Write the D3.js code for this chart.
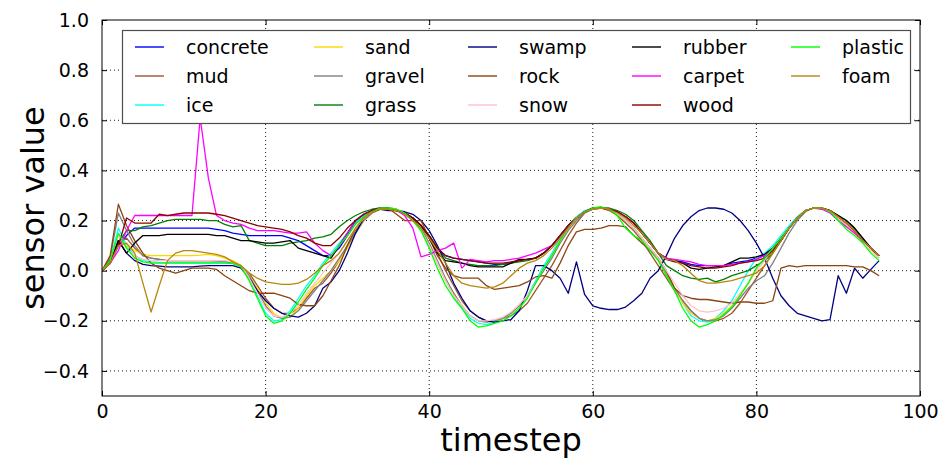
<!DOCTYPE html>
<html>
<head>
<meta charset="utf-8">
<script src="https://cdnjs.cloudflare.com/ajax/libs/d3/7.8.5/d3.min.js"></script>
<style>
body { margin: 0; background: #fff; }
svg { font-family: "DejaVu Sans", sans-serif; }
</style>
</head>
<body>
<svg id="chart" width="946" height="461"></svg>
<script>

// sensor readings, one value per timestep (0..95), rows of ten
var concrete = [
  0, .03, .1, .14, .17, .17, .17, .17, .17, .17,
  .17, .17, .17, .17, .165, .16, .15, .145, .14, .14,
  .14, .14, .14, .13, .12, .1, .08, .06, .06, .09,
  .14, .19, .22, .24, .25, .25, .24, .23, .21, .18,
  .14, .09, .06, .05, .045, .04, .035, .03, .025, .025,
  .03, .04, .045, .05, .07, .1, .14, .18, .21, .235,
  .25, .25, .245, .235, .215, .19, .15, .11, .07, .045,
  .04, .035, .025, .02, .02, .02, .02, .03, .035, .04,
  .05, .06, .08, .12, .17, .21, .24, .25, .25, .235,
  .21, .19, .16, .12, .09, .06];
var mud = [
  0, .03, .11, .13, .09, .06, .05, .045, .04, .04,
  .04, .04, .04, .04, .04, .035, .03, .02, -.01, -.06,
  -.11, -.15, -.17, -.17, -.15, -.11, -.07, -.05, -.01, .04,
  .1, .16, .2, .23, .245, .25, .245, .23, .21, .18,
  .13, .07, 0, -.06, -.12, -.16, -.185, -.2, -.2, -.19,
  -.18, -.16, -.13, -.08, -.03, .02, .08, .14, .19, .23,
  .245, .25, .24, .22, .19, .16, .12, .07, .02, -.03,
  -.08, -.12, -.16, -.19, -.2, -.2, -.19, -.17, -.13, -.08,
  -.03, .02, .07, .12, .17, .21, .24, .25, .25, .24,
  .21, .19, .16, .12, .09, .06];
var ice = [
  0, .04, .17, .1, .06, .04, .035, .033, .032, .032,
  .032, .032, .032, .032, .032, .032, .03, .02, -.03, -.1,
  -.17, -.2, -.195, -.16, -.11, -.06, -.02, .03, .07, .11,
  .15, .19, .22, .24, .25, .25, .245, .225, .2, .16,
  .1, .03, -.04, -.1, -.15, -.19, -.21, -.215, -.205, -.19,
  -.17, -.14, -.1, -.04, .02, .07, .13, .18, .215, .24,
  .25, .25, .245, .23, .2, .17, .13, .09, .05, -.01,
  -.07, -.13, -.18, -.2, -.205, -.19, -.16, -.12, -.06, 0,
  .05, .07, .1, .14, .18, .215, .24, .25, .25, .235,
  .21, .18, .15, .12, .08, .05];
var sand = [
  0, .03, .12, .1, .08, .065, .06, .06, .06, .06,
  .06, .06, .062, .065, .06, .05, .04, .02, -.02, -.07,
  -.13, -.17, -.19, -.185, -.15, -.1, -.06, -.03, 0, .04,
  .09, .15, .2, .23, .245, .25, .245, .23, .2, .16,
  .1, .03, -.04, -.09, -.14, -.18, -.2, -.205, -.2, -.19,
  -.17, -.14, -.1, -.05, 0, .06, .12, .17, .21, .235,
  .25, .25, .245, .23, .2, .17, .13, .09, .05, -.01,
  -.07, -.13, -.17, -.19, -.2, -.19, -.17, -.14, -.1, -.05,
  0, .04, .08, .13, .17, .21, .24, .25, .25, .235,
  .21, .18, .15, .12, .08, .05];
var gravel = [
  0, .05, .23, .16, .1, .06, .05, .045, .04, .04,
  .04, .04, .04, .04, .038, .036, .034, .02, -.02, -.08,
  -.14, -.18, -.19, -.185, -.16, -.12, -.08, -.04, 0, .05,
  .1, .15, .2, .23, .245, .25, .245, .23, .2, .17,
  .11, .04, -.03, -.09, -.14, -.18, -.2, -.205, -.2, -.19,
  -.17, -.14, -.1, -.05, 0, .05, .11, .16, .2, .23,
  .245, .25, .245, .23, .2, .17, .13, .09, .05, -.01,
  -.07, -.12, -.16, -.19, -.2, -.195, -.18, -.15, -.11, -.07,
  -.04, -.02, .03, .09, .15, .2, .235, .25, .25, .24,
  .21, .18, .15, .12, .09, .06];
var grass = [
  0, .03, .11, .16, .16, .175, .18, .19, .2, .205,
  .205, .205, .205, .2, .2, .185, .175, .18, .12, .11,
  .1, .1, .1, .11, .115, .12, .13, .135, .145, .175,
  .2, .22, .235, .245, .25, .25, .24, .23, .21, .18,
  .14, .09, .05, .04, .03, .025, .02, .02, .02, .025,
  .03, .035, .04, .05, .07, .1, .14, .18, .21, .235,
  .25, .25, .25, .24, .225, .2, .16, .12, .07, .02,
  0, -.02, -.03, -.035, -.03, -.045, -.035, -.02, -.01, 0,
  .02, .04, .07, .12, .17, .21, .24, .25, .25, .24,
  .22, .2, .17, .13, .09, .06];
var swamp = [
  0, .04, .12, .07, .04, .025, .02, .018, .015, .015,
  .015, .015, .018, .02, .02, .02, .02, .01, -.03, -.08,
  -.12, -.15, -.17, -.18, -.185, -.17, -.14, -.07, -.045, 0,
  .07, .15, .21, .235, .245, .24, .24, .235, .225, .2,
  .16, .1, .03, -.05, -.11, -.16, -.185, -.2, -.205, -.2,
  -.195, -.16, -.08, .02, .02, 0, -.03, -.09, .035, -.095,
  -.14, -.15, -.155, -.155, -.145, -.12, -.09, -.03, 0, .06,
  .13, .18, .215, .24, .25, .25, .245, .23, .2, .16,
  .11, .05, -.03, -.1, -.14, -.17, -.18, -.19, -.2, -.195,
  -.02, -.09, .01, -.03, .005, .04];
var rock = [
  0, .06, .265, .18, .12, .07, .03, .01, 0, -.01,
  0, .01, .01, .01, .005, -.02, -.04, -.06, -.08, -.09,
  -.09, -.09, -.1, -.11, -.135, -.14, -.14, -.1, -.04, .02,
  .1, .17, .21, .235, .245, .25, .225, .2, .2, .2,
  .13, .06, .01, -.02, -.03, -.03, -.03, -.06, -.075, -.07,
  -.065, -.06, -.045, -.025, -.02, -.03, .03, .1, .155, .165,
  .165, .17, .18, .18, .175, .14, .11, .08, .05, 0,
  -.07, -.1, -.11, -.115, -.115, -.12, -.125, -.13, -.125, -.125,
  -.13, -.13, -.12, .01, .02, .015, .02, .02, .02, .02,
  .02, .02, .015, .015, 0, -.02];
var snow = [
  0, .04, .14, .09, .06, .045, .04, .04, .04, .04,
  .04, .04, .04, .04, .04, .04, .035, .02, -.03, -.09,
  -.15, -.18, -.185, -.17, -.14, -.09, -.05, -.01, .03, .07,
  .12, .17, .21, .235, .25, .25, .245, .23, .2, .16,
  .1, .03, -.04, -.1, -.14, -.18, -.2, -.2, -.195, -.185,
  -.165, -.135, -.1, -.05, .01, .06, .12, .17, .21, .235,
  .25, .25, .245, .23, .2, .17, .13, .09, .05, 0,
  -.05, -.1, -.14, -.16, -.165, -.16, -.15, -.13, -.09, -.05,
  0, .04, .09, .13, .17, .21, .24, .25, .25, .235,
  .21, .18, .15, .12, .08, .05];
var rubber = [
  0, .03, .12, .07, .11, .14, .14, .14, .145, .145,
  .145, .145, .145, .145, .14, .14, .13, .12, .12, .115,
  .11, .11, .115, .12, .09, .08, .07, .06, .05, .1,
  .15, .2, .225, .24, .25, .25, .24, .23, .21, .18,
  .13, .07, .04, .035, .03, .02, .015, .015, .015, .015,
  .03, .045, .045, .05, .07, .1, .14, .18, .21, .235,
  .25, .25, .245, .235, .215, .19, .15, .11, .07, .05,
  .04, .03, .01, .005, .01, .015, .02, .035, .05, .05,
  .055, .065, .09, .13, .17, .21, .24, .25, .25, .24,
  .22, .2, .17, .13, .09, .06];
var carpet = [
  0, .03, .08, .16, .22, .22, .22, .22, .22, .22,
  .22, .22, .61, .37, .22, .2, .19, .185, .17, .16,
  .16, .16, .155, .15, .15, .155, .11, .08, .06, .1,
  .15, .2, .225, .24, .25, .245, .24, .22, .17, .055,
  .065, .08, .09, .11, .01, .045, .04, .035, .04, .04,
  .045, .05, .06, .07, .085, .1, .14, .18, .21, .235,
  .25, .25, .245, .235, .215, .19, .15, .11, .07, .05,
  .045, .04, .035, .025, .02, .02, .02, .025, .03, .035,
  .045, .06, .08, .12, .17, .21, .24, .25, .245, .23,
  .2, .175, .15, .12, .09, .06];
var wood = [
  0, .04, .1, .21, .19, .19, .19, .225, .22, .225,
  .23, .23, .23, .23, .225, .22, .21, .2, .19, .18,
  .175, .17, .165, .155, .14, .13, .11, .1, .1, .13,
  .17, .2, .225, .24, .25, .245, .24, .23, .21, .18,
  .14, .09, .06, .05, .045, .04, .035, .03, .03, .03,
  .035, .04, .045, .05, .07, .1, .14, .18, .21, .235,
  .25, .25, .245, .235, .215, .19, .15, .11, .07, .045,
  .035, .03, .02, .015, .01, .01, .015, .02, .03, .035,
  .04, .05, .08, .12, .17, .21, .24, .25, .25, .24,
  .215, .19, .16, .12, .09, .06];
var plastic = [
  0, .04, .15, .09, .05, .035, .03, .03, .03, .03,
  .03, .03, .03, .03, .03, .03, .028, .015, -.04, -.11,
  -.18, -.21, -.2, -.17, -.125, -.075, -.03, .02, .06, .1,
  .14, .185, .215, .235, .25, .25, .245, .23, .2, .16,
  .09, .01, -.06, -.11, -.15, -.2, -.225, -.22, -.21, -.2,
  -.18, -.15, -.11, -.05, .01, .06, .12, .17, .21, .235,
  .25, .255, .245, .22, .17, .14, .12, .08, .04, -.02,
  -.08, -.15, -.2, -.225, -.215, -.2, -.175, -.145, -.1, -.05,
  .01, .05, .09, .13, .17, .21, .24, .25, .25, .235,
  .2, .165, .14, .11, .07, .04];
var foam = [
  0, .03, .1, .11, .07, -.05, -.165, -.06, .04, .07,
  .08, .08, .075, .07, .065, .055, .035, .02, -.01, -.03,
  -.045, -.05, -.055, -.055, -.05, -.035, -.01, .02, .04, .07,
  .12, .17, .21, .235, .245, .245, .24, .225, .2, .17,
  .13, .08, .03, -.02, -.05, -.06, -.065, -.07, -.065, -.05,
  -.02, .01, .03, .04, .06, .09, .13, .17, .21, .235,
  .245, .25, .245, .23, .21, .18, .15, .11, .07, .045,
  .04, .02, -.01, -.04, -.05, -.05, -.045, -.04, -.03, -.02,
  -.01, .02, .07, .12, .17, .21, .24, .25, .25, .24,
  .215, .19, .16, .12, .09, .06];

var names = ["concrete", "mud", "ice", "sand", "gravel", "grass", "swamp",
             "rock", "snow", "rubber", "carpet", "wood", "plastic", "foam"];
var series = [concrete, mud, ice, sand, gravel, grass, swamp,
              rock, snow, rubber, carpet, wood, plastic, foam];
var colors = ["#0000ff", "#a0522d", "#00ffff", "#ffd700", "#808080", "#008000", "#000080",
              "#8b4513", "#ffc0cb", "#000000", "#ff00ff", "#8b0000", "#00ff00", "#b8860b"];

var xTicks = [0, 20, 40, 60, 80, 100];
var yTicks = [-0.4, -0.2, 0.0, 0.2, 0.4, 0.6, 0.8, 1.0];

var svg_width = 946,
    svg_height = 461,
    margin = {top: 20, right: 26, bottom: 65, left: 102},
    width = svg_width - margin.left - margin.right,
    height = svg_height - margin.top - margin.bottom;

var svg = d3.select("#chart");

var g = svg.append("g")
    .attr("transform", "translate(" + margin.left + "," + margin.top + ")");

var x = d3.scaleLinear().domain([0, 100]).range([0, width]);
var y = d3.scaleLinear().domain([-0.5, 1.0]).range([height, 0]);

// dotted grid
g.append("g").selectAll("line").data(xTicks.slice(1, -1)).enter().append("line")
    .attr("x1", function(d) { return x(d); })
    .attr("x2", function(d) { return x(d); })
    .attr("y1", 0).attr("y2", height)
    .attr("stroke", "#000").attr("stroke-width", 0.9)
    .attr("stroke-dasharray", "1,3");

g.append("g").selectAll("line").data(yTicks.slice(0, -1)).enter().append("line")
    .attr("x1", 0).attr("x2", width)
    .attr("y1", function(d) { return y(d); })
    .attr("y2", function(d) { return y(d); })
    .attr("stroke", "#000").attr("stroke-width", 0.9)
    .attr("stroke-dasharray", "1,3");

g.append("defs").append("clipPath")
    .attr("id", "clip")
    .append("rect")
    .attr("width", width)
    .attr("height", height);

var line = d3.line()
    .x(function(d, i) { return x(i); })
    .y(function(d) { return y(d); });

var lines = g.append("g").attr("clip-path", "url(#clip)");
series.forEach(function(s, k) {
    lines.append("path")
        .datum(s)
        .attr("fill", "none")
        .attr("stroke", colors[k])
        .attr("stroke-width", 1.3)
        .attr("stroke-linejoin", "round")
        .attr("d", line);
});

// axes, ticks pointing inwards on all four sides
var fmtY = d3.format(".1f");

var xaxis = g.append("g")
    .attr("transform", "translate(0," + height + ")")
    .call(d3.axisBottom(x).tickValues(xTicks).tickSize(-5).tickPadding(9));

var yaxis = g.append("g")
    .call(d3.axisLeft(y).tickValues(yTicks).tickFormat(fmtY).tickSize(-5).tickPadding(13));

g.append("g")
    .call(d3.axisTop(x).tickValues(xTicks).tickSize(-5).tickFormat(""));

g.append("g")
    .attr("transform", "translate(" + width + ",0)")
    .call(d3.axisRight(y).tickValues(yTicks).tickSize(-5).tickFormat(""));

g.selectAll(".domain").remove();
g.selectAll(".tick line").attr("stroke", "#000").attr("stroke-width", 1);
g.selectAll(".tick text")
    .attr("fill", "#000")
    .style("font-size", "19px")
    .style("font-family", "'DejaVu Sans', sans-serif");

g.append("rect")
    .attr("width", width)
    .attr("height", height)
    .attr("fill", "none")
    .attr("stroke", "#000")
    .attr("stroke-width", 1);

// axis titles
svg.append("text")
    .attr("text-anchor", "middle")
    .attr("x", margin.left + width / 2)
    .attr("y", 451)
    .style("font-size", "32px")
    .text("timestep");

svg.append("text")
    .attr("text-anchor", "middle")
    .attr("transform", "translate(44," + (margin.top + height / 2) + ")rotate(-90)")
    .style("font-size", "32px")
    .text("sensor value");

// legend: 5 columns, 3 rows, filled column by column
var legend = svg.append("g");
legend.append("rect")
    .attr("x", 122.5).attr("y", 30.5)
    .attr("width", 788).attr("height", 93)
    .attr("fill", "#fff")
    .attr("stroke", "#4d4d4d")
    .attr("stroke-width", 1.2);

var colX = [135, 314, 468, 632, 791];
var rowY = [47, 76, 105];

names.forEach(function(name, i) {
    var cx = colX[Math.floor(i / 3)],
        cy = rowY[i % 3];
    legend.append("line")
        .attr("x1", cx).attr("x2", cx + 29)
        .attr("y1", cy).attr("y2", cy)
        .attr("stroke", colors[i])
        .attr("stroke-opacity", 0.7)
        .attr("stroke-width", 2);
    legend.append("text")
        .attr("x", cx + 51)
        .attr("y", cy)
        .attr("dy", "0.35em")
        .style("font-size", "19px")
        .text(name);
});

</script>
</body>
</html>
